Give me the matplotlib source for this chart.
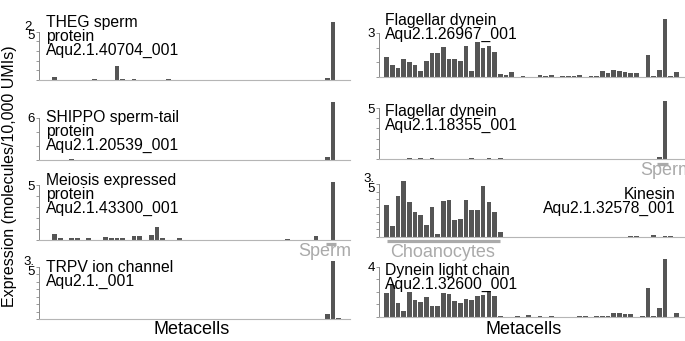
import matplotlib
matplotlib.use('Agg')
import matplotlib.pyplot as plt
import numpy as np
from matplotlib.transforms import Bbox, TransformedBbox, blended_transform_factory

plt.rcParams['font.family'] = ['Liberation Sans', 'DejaVu Sans']

# metacell index (same ordering in every panel)
metacells = np.arange(1, 53)

# expression values, one per metacell
theg = [0.14, 0, 0, 0, 0, 0, 0, 0.05, 0, 0, 0, 0.70, 0.05, 0, 0.03, 0, 0, 0, 0, 0,
        0.03, 0, 0, 0, 0, 0, 0, 0, 0.01, 0, 0, 0, 0, 0.02, 0, 0, 0, 0, 0, 0,
        0, 0, 0, 0, 0, 0, 0, 0, 0.09, 3.0, 0, 0]
shippo = [0, 0, 0, 0.15, 0, 0, 0, 0, 0, 0.03, 0, 0, 0, 0, 0, 0, 0, 0.03, 0, 0,
          0, 0, 0, 0.03, 0, 0, 0, 0, 0, 0, 0.03, 0, 0, 0, 0, 0, 0.03, 0, 0, 0,
          0, 0, 0, 0, 0.05, 0, 0, 0, 0.47, 8.2, 0, 0]
meiosis = [0.52, 0.21, 0, 0.21, 0.21, 0, 0.15, 0, 0, 0.24, 0.15, 0.21, 0.21, 0, 0.36, 0.36, 0, 0.45, 1.21, 0.21,
           0, 0, 0.15, 0, 0, 0, 0.03, 0, 0, 0, 0.03, 0, 0, 0, 0, 0.03, 0, 0, 0, 0,
           0, 0.09, 0, 0, 0, 0, 0.36, 0, 0, 5.3, 0, 0]
trpv = [0, 0, 0, 0, 0, 0, 0, 0, 0, 0, 0, 0, 0, 0, 0.01, 0, 0, 0, 0, 0,
        0, 0, 0, 0.01, 0, 0, 0, 0, 0, 0, 0, 0, 0.01, 0, 0, 0, 0, 0, 0, 0,
        0, 0, 0, 0, 0, 0, 0.03, 0, 0.33, 3.9, 0.09, 0]
dynein_26967 = [1.36, 0.80, 0.64, 1.25, 1.05, 0.84, 0.41, 1.11, 1.64, 1.64, 2.05, 1.23, 1.23, 1.07, 2.11, 0.43, 2.39, 1.98, 2.09, 1.70,
                0.18, 0.11, 0.32, 0.02, 0.09, 0, 0.02, 0.14, 0.07, 0.11, 0, 0.09, 0.09, 0.07, 0.11, 0, 0.07, 0.09, 0.43, 0.27,
                0.45, 0.41, 0.36, 0.27, 0.27, 0, 1.48, 0.07, 0.48, 3.95, 0.09, 0.36]
dynein_18355 = [0, 0, 0, 0, 0.05, 0, 0.05, 0, 0.08, 0, 0, 0, 0, 0, 0, 0.10, 0, 0, 0.05, 0,
                0.05, 0, 0, 0, 0.04, 0, 0, 0, 0, 0, 0, 0, 0, 0.02, 0, 0, 0, 0, 0, 0.02,
                0, 0, 0, 0, 0, 0, 0, 0, 0.23, 5.7, 0, 0]
kinesin = [2.13, 0.70, 2.72, 3.73, 2.28, 1.62, 1.45, 0.79, 1.95, 0.22, 2.35, 2.43, 1.12, 1.18, 2.43, 1.75, 1.80, 3.38, 2.28, 1.64,
           0.31, 0, 0.02, 0, 0, 0, 0, 0, 0, 0, 0, 0, 0, 0, 0, 0, 0, 0, 0, 0,
           0, 0, 0, 0.04, 0.04, 0, 0, 0.16, 0, 0.06, 0.06, 0]
dynein_light = [1.87, 2.53, 1.12, 0.45, 2.00, 1.33, 1.20, 1.60, 0.88, 0.88, 1.92, 1.81, 1.28, 1.12, 1.41, 1.39, 1.65, 1.73, 2.05, 1.65,
                0.08, 0, 0.03, 0.05, 0.03, 0.13, 0, 0.05, 0.03, 0.05, 0, 0, 0.03, 0.03, 0.08, 0.08, 0, 0.10, 0.10, 0.10,
                0.32, 0.32, 0.24, 0.21, 0, 0.08, 2.32, 0.05, 0.75, 4.61, 0, 0.32]

W, H = 685, 341
BAR = '#555555'
GREY = '#aaaaaa'

fig = plt.figure(figsize=(W / 100, H / 100), dpi=100)

# column extents in pixels and matching x limits
columns = [(39, 350, (-1.75, 53.0)), (379, 685, (-0.34, 53.54))]

# values, column, baseline px, height px, y ticks, top tick label, title, title x, title top, align
panels = [
    (theg, 0, 80, 58, np.arange(0, 2.51, 0.5), '2.\n5', 'THEG sperm\nprotein\nAqu2.1.40704_001', 46, 15, 'left'),
    (shippo, 0, 160, 58, [0, 2, 4, 6], '6', 'SHIPPO sperm-tail\nprotein\nAqu2.1.20539_001', 46, 110, 'left'),
    (meiosis, 0, 240, 58, [0, 1, 2, 3, 4, 5], '5', 'Meiosis expressed\nprotein\nAqu2.1.43300_001', 46, 173, 'left'),
    (trpv, 0, 319, 58, np.arange(0, 3.51, 0.5), '3.\n5', 'TRPV ion channel\nAqu2.1._001', 46, 260, 'left'),
    (dynein_26967, 1, 77, 58, [0, 1, 2, 3], '3', 'Flagellar dynein\nAqu2.1.26967_001', 385, 13, 'left'),
    (dynein_18355, 1, 159, 58, [0, 1, 2, 3, 4, 5], '5', 'Flagellar dynein\nAqu2.1.18355_001', 385, 104, 'left'),
    (kinesin, 1, 237, 56.5, np.arange(0, 3.51, 0.5), '3.\n5', 'Kinesin\nAqu2.1.32578_001', 676, 187, 'right'),
    (dynein_light, 1, 317, 58, [0, 1, 2, 3, 4], '4', 'Dynein light chain\nAqu2.1.32600_001', 385, 263, 'left'),
]

axes = []
for values, col, base, height, ticks, toplabel, title, tx, ttop, align in panels:
    x0, x1, xlim = columns[col]
    ax = fig.add_axes([x0 / W, 1 - base / H, (x1 - x0) / W, height / H])
    ax.bar(metacells, values, width=0.82, color=BAR, linewidth=0, clip_on=False)
    ax.set_xlim(*xlim)
    ax.set_ylim(0, max(values))
    ax.set_facecolor('none')
    ax.spines['top'].set_visible(False)
    ax.spines['right'].set_visible(False)
    ax.spines['bottom'].set_color('#b5b5b5')
    ax.spines['bottom'].set_linewidth(0.8)
    ax.spines['left'].set_color('#888888')
    ax.spines['left'].set_linewidth(0.7)
    ax.spines['left'].set_bounds(0, ticks[-1])
    ax.set_xticks([])
    ax.set_yticks(ticks)
    ax.set_yticklabels([''] * (len(ticks) - 1) + [toplabel])
    ax.tick_params(axis='y', length=2, width=0.6, color='#888888', pad=1, labelsize=9.5)
    for lbl in ax.get_yticklabels():
        lbl.set_linespacing(0.7)
    fig.text(tx / W, 1 - ttop / H, title, ha=align, va='top', multialignment=align,
             fontsize=11.3, linespacing=0.9)
    axes.append(ax)


def group_line(ax, x0, x1, offset_px, height_px):
    trans = blended_transform_factory(ax.transData, ax.transAxes)
    y = -offset_px / height_px
    ax.plot([x0, x1], [y, y], transform=trans, color=GREY, lw=2.3,
            solid_capstyle='butt', clip_on=False)


# cell type markers
group_line(axes[2], 48.7, 50.6, 3.5, 58)
group_line(axes[5], 48.6, 50.6, 4.5, 58)
group_line(axes[6], 1.05, 20.95, 4, 56.5)

sperm_left = fig.text(298 / W, 1 - 256 / H, 'Sperm', color=GREY, fontsize=13, va='baseline')
sperm_left.set_clip_box(TransformedBbox(Bbox([[0, 0], [352 / W, 1]]), fig.transFigure))
sperm_left.set_clip_on(True)
fig.text(640 / W, 1 - 175 / H, 'Sperm', color=GREY, fontsize=13, va='baseline')
fig.text(442.5 / W, 1 - 257 / H, 'Choanocytes', color=GREY, fontsize=13, ha='center', va='baseline')

fig.text(192 / W, 1 - 334 / H, 'Metacells', fontsize=13, ha='center', va='baseline')
fig.text(524 / W, 1 - 334 / H, 'Metacells', fontsize=13, ha='center', va='baseline')
fig.text(10 / W, 1 - 176 / H, 'Expression (molecules/10,000 UMIs)', fontsize=11.5,
         rotation=90, ha='center', va='center')

fig.savefig('out.png', dpi=100)
